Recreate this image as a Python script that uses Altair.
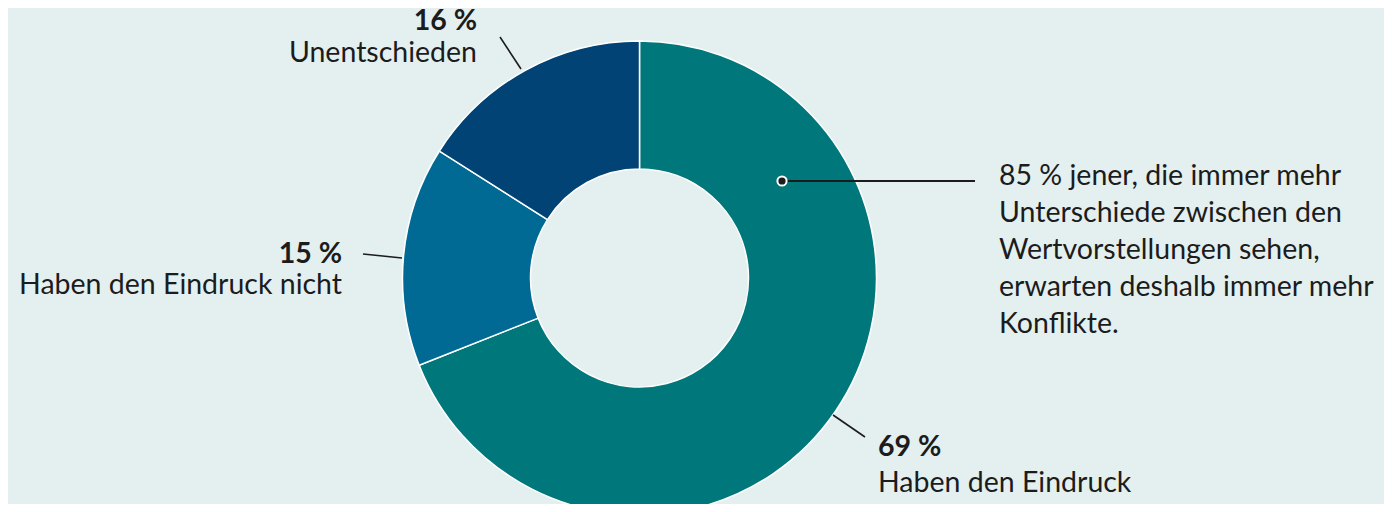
import altair as alt
import pandas as pd

categories = ["Haben den Eindruck", "Haben den Eindruck nicht", "Unentschieden"]
values = [69, 15, 16]
colors = ["#00777a", "#006a94", "#004374"]
note_lines = [
    "85 % jener, die immer mehr",
    "Unterschiede zwischen den",
    "Wertvorstellungen sehen,",
    "erwarten deshalb immer mehr",
    "Konflikte.",
]

df = pd.DataFrame({"cat": categories, "val": values, "ord": [0, 1, 2]})

BG = "#e4f0f0"
TXT = "#1c1c1c"
FONT = "Lato"
FS = 28.5
CX, CY = 631.5, 270

donut = alt.Chart(df).mark_arc(
    x=CX, y=CY, outerRadius=237, innerRadius=109, stroke="white", strokeWidth=1.5
).encode(
    theta=alt.Theta("val:Q", stack=True, scale=alt.Scale(domain=[0, 100])),
    color=alt.Color("cat:N", scale=alt.Scale(domain=categories, range=colors), legend=None),
    order=alt.Order("ord:Q"),
)

base = alt.Chart(pd.DataFrame({"a": [0]}))


def rule(x1, y1, x2, y2, w=1.6):
    return base.mark_rule(color=TXT, strokeWidth=w).encode(
        x=alt.value(x1), y=alt.value(y1), x2=alt.value(x2), y2=alt.value(y2)
    )


def label(txt, x, y, align, bold=False):
    return base.mark_text(
        text=txt, align=align, baseline="alphabetic", font=FONT, fontSize=FS,
        fontWeight="bold" if bold else "normal", color=TXT,
    ).encode(x=alt.value(x), y=alt.value(y))


layers = [donut]
# leader lines
layers.append(rule(492, 29, 513, 61))
layers.append(rule(355, 246, 394, 250))
layers.append(rule(825, 407, 857, 429))
layers.append(rule(774, 173, 967, 173, 2))
layers.append(
    base.mark_point(filled=True, fill=TXT, stroke="white", strokeWidth=2, size=85, opacity=1).encode(
        x=alt.value(774), y=alt.value(173)
    )
)
# labels
layers.append(label(f"{values[2]} %", 469, 22, "right", True))
layers.append(label(categories[2], 469, 54, "right"))
layers.append(label(f"{values[1]} %", 334, 255, "right", True))
layers.append(label(categories[1], 334, 286, "right"))
layers.append(label(f"{values[0]} %", 870, 448, "left", True))
layers.append(label(categories[0], 870, 484, "left"))
for i, line in enumerate(note_lines):
    layers.append(label(line, 991, 177 + 37 * i, "left"))

chart = alt.layer(*layers).properties(
    width=1376, height=496,
    autosize=alt.AutoSizeParams(type="none"),
    padding=0, background=BG,
).configure_view(strokeWidth=0)

chart.save("out.html", embed_options={"renderer": "svg", "actions": False})
